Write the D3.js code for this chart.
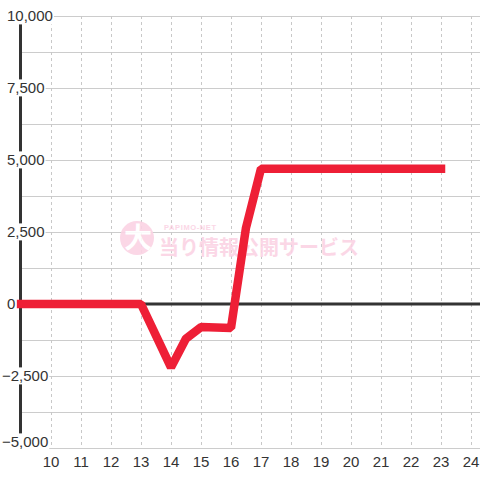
<!DOCTYPE html>
<html><head><meta charset="utf-8">
<script src="https://cdn.jsdelivr.net/npm/d3@7"></script>
<style>body{margin:0;background:#fff}svg{display:block;font-family:"Liberation Sans",Arial,sans-serif}</style>
</head><body>
<svg id="c" width="480" height="480"></svg>
<script>
// Data
const hours  = [9, 10, 11, 12, 13, 14, 14.5, 15, 16, 16.5, 17, 18, 19, 20, 21, 22, 23];
const values = [0, 0, 0, 0, 0, -2200, -1200, -800, -830, 2650, 4700, 4700, 4700, 4700, 4700, 4700, 4700];
const xTicks = [10, 11, 12, 13, 14, 15, 16, 17, 18, 19, 20, 21, 22, 23, 24];
const yTicks = [-5000, -2500, 0, 2500, 5000, 7500, 10000];
const yMinor = [-3750, -1250, 1250, 3750, 6250, 8750];

const svg = d3.select("#c");
const x = d3.scaleLinear().domain([9, 24.3]).range([21, 480]);
const y = d3.scaleLinear().domain([-5000, 10000]).range([448, 16]);

// horizontal grid
svg.append("g").selectAll("line").data(yTicks.concat(yMinor).filter(d => d !== 0)).join("line")
  .attr("x1", x(9)).attr("x2", 480).attr("y1", d => y(d)).attr("y2", d => y(d))
  .attr("stroke", "#cccccc").attr("stroke-width", 1).attr("shape-rendering", "crispEdges");

// vertical dashed grid
svg.append("g").selectAll("line").data(xTicks).join("line")
  .attr("x1", d => Math.round(x(d)) + 0.5).attr("x2", d => Math.round(x(d)) + 0.5)
  .attr("y1", y(10000)).attr("y2", y(-5000))
  .attr("stroke", "#c8c8c8").attr("stroke-width", 1).attr("stroke-dasharray", "3,3");

// watermark
const wm = svg.append("g").attr("opacity", 0.9);
wm.append("circle").attr("cx", 137).attr("cy", 238).attr("r", 17).attr("fill", "#fbd3e4");
wm.append("text").attr("x", 138).attr("y", 248).attr("text-anchor", "middle")
  .attr("font-family", "Noto Sans CJK JP").attr("font-weight", "bold").attr("font-size", 28)
  .attr("fill", "#ffffff").text("大");
wm.append("text").attr("x", 164).attr("y", 230)
  .attr("font-family", "Liberation Sans").attr("font-weight", "bold").attr("font-size", 7.5)
  .attr("textLength", 52).attr("lengthAdjust", "spacing").attr("fill", "#fbd3e4").text("PAPIMO-NET");
wm.append("text").attr("x", 159).attr("y", 255)
  .attr("font-family", "Noto Sans CJK JP").attr("font-weight", "bold").attr("font-size", 20)
  .attr("fill", "#fbd3e4").text("当り情報公開サービス");

// zero line
svg.append("line").attr("x1", x(9) - 1).attr("x2", 480).attr("y1", y(0)).attr("y2", y(0))
  .attr("stroke", "#333").attr("stroke-width", 3);

// y axis line
svg.append("line").attr("x1", 20.5).attr("x2", 20.5).attr("y1", y(10000)).attr("y2", y(-5000))
  .attr("stroke", "#333").attr("stroke-width", 3);

// data line
const line = d3.line().x((d, i) => x(hours[i])).y(d => y(d));
svg.append("path").attr("d", line(values)).attr("fill", "none")
  .attr("stroke", "#ee1f36").attr("stroke-width", 8.5).attr("stroke-linecap", "square")
  .attr("stroke-linejoin", "bevel");

// y labels with background
const fmt = d3.format(",");
const yl = svg.append("g");
yTicks.forEach(d => {
  const cy = Math.min(y(d), 442);
  const t = yl.append("text").attr("x", d < 0 ? 2 : 7).attr("y", cy).attr("dy", "0.36em")
    .attr("font-size", 15).attr("fill", "#333").text(d === 0 ? "0" : fmt(d));
  const b = t.node().getBBox();
  yl.insert("rect", () => t.node()).attr("x", b.x - 1).attr("y", b.y).attr("width", b.width + 2)
    .attr("height", b.height).attr("fill", "#fff");
});

// x labels
svg.append("g").selectAll("text").data(xTicks).join("text")
  .attr("x", d => x(d)).attr("y", 467).attr("text-anchor", "middle")
  .attr("font-size", 15).attr("fill", "#333").text(d => d);
</script>
</body></html>
